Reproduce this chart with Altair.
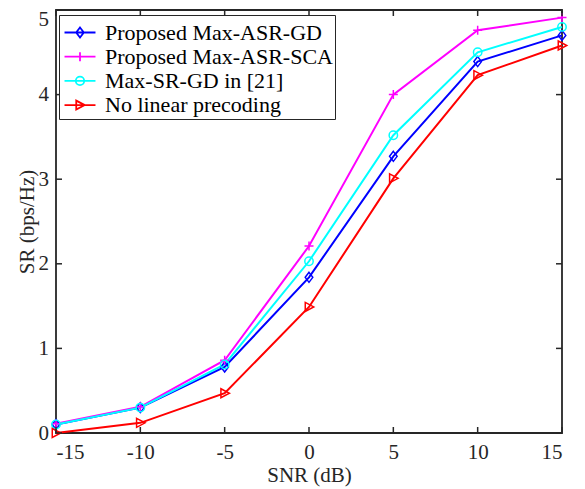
import altair as alt
import pandas as pd

# ---- data ----
snr = [-15, -10, -5, 0, 5, 10, 15]
asr_gd = [0.10, 0.30, 0.78, 1.84, 3.27, 4.39, 4.70]
asr_sca = [0.11, 0.31, 0.86, 2.21, 4.00, 4.76, 4.91]
sr_gd21 = [0.10, 0.30, 0.81, 2.03, 3.52, 4.50, 4.80]
no_lp = [0.00, 0.12, 0.47, 1.49, 3.01, 4.23, 4.58]

series_names = ["Proposed Max-ASR-GD", "Proposed Max-ASR-SCA",
                "Max-SR-GD in [21]", "No linear precoding"]
series_colors = ["#0000FF", "#FF00FF", "#00FFFF", "#FF0000"]
x_ticks = [-15, -10, -5, 0, 5, 10, 15]
y_ticks = [0, 1, 2, 3, 4, 5]

# ---- marker shapes (custom svg paths, unit box) ----
marker_paths = [
    "M0,-1L0.76,0L0,1L-0.76,0Z",                                            # diamond
    "M-0.9,0L0.9,0M0,-0.9L0,0.9",                                           # plus
    "M-0.84,0A0.84,0.84,0,1,0,0.84,0A0.84,0.84,0,1,0,-0.84,0Z",            # circle
    "M-0.75,-0.9L0.95,0L-0.75,0.9Z",                                        # triangle right
]
legend_paths = [
    "M-1.63,0L1.63,0M0,-0.526L0.4,0L0,0.526L-0.4,0Z",
    "M-1.63,0L1.63,0M0,-0.47L0,0.47",
    "M-1.63,0L1.63,0M-0.442,0A0.442,0.442,0,1,0,0.442,0A0.442,0.442,0,1,0,-0.442,0Z",
    "M-1.63,0L1.63,0M-0.395,-0.474L0.5,0L-0.395,0.474Z",
]

rows = []
for name, vals in zip(series_names, [asr_gd, asr_sca, sr_gd21, no_lp]):
    for i, (xv, yv) in enumerate(zip(snr, vals)):
        rows.append({"snr": xv, "sr": yv, "series": name, "k": i})
df = pd.DataFrame(rows)
xt = pd.DataFrame({"snr": x_ticks})
yt = pd.DataFrame({"sr": y_ticks})

W, H = 506, 423
FONT = "Liberation Serif"
AX = "#262626"
TL = 6

xs = alt.Scale(domain=[-15, 15], nice=False, zero=False)
ys = alt.Scale(domain=[0, 5], nice=False, zero=False)

x_axis = alt.Axis(values=x_ticks, title="SNR (dB)", labelPadding=8, titlePadding=2,
                  labelExpr="'' + datum.value")
y_axis = alt.Axis(values=y_ticks, title="SR (bps/Hz)", labelPadding=7.5, titlePadding=1,
                  labelExpr="'' + datum.value",
                  labelOffset={"condition": {"test": "datum.value >= 5", "value": 9},
                               "value": 0})

X = alt.X("snr:Q", scale=xs, axis=x_axis)
Y = alt.Y("sr:Q", scale=ys, axis=y_axis)

base = alt.Chart(df)

lines = base.mark_line(strokeWidth=2).encode(
    x=X, y=Y,
    color=alt.Color("series:N", scale=alt.Scale(domain=series_names, range=series_colors),
                    legend=None),
    order="k:Q",
)

markers = base.mark_point(filled=False, size=100, strokeWidth=1.5, opacity=1).encode(
    x=X, y=Y,
    color=alt.Color("series:N", scale=alt.Scale(domain=series_names, range=series_colors),
                    legend=None),
    shape=alt.Shape("series:N", scale=alt.Scale(domain=series_names, range=marker_paths),
                    legend=None),
)

leg = alt.Legend(orient="none", legendX=3, legendY=5, title=" ",
                 titleFontSize=2, titlePadding=2.5,
                 labelFont=FONT, labelFontSize=22, labelColor="black",
                 symbolSize=361, symbolStrokeWidth=1.8, symbolOffset=8, labelOffset=14,
                 padding=2, rowPadding=2.2, strokeColor=AX, fillColor="white",
                 labelLimit=400)

legend_layer = base.transform_filter("datum.sr < -100").mark_point(
    filled=False, opacity=1, strokeWidth=1.8).encode(
    x=X, y=Y,
    color=alt.Color("series:N", scale=alt.Scale(domain=series_names, range=series_colors),
                    legend=leg),
    shape=alt.Shape("series:N", scale=alt.Scale(domain=series_names, range=legend_paths),
                    legend=leg),
)

tick_style = dict(color=AX, strokeWidth=1.5)
xt_bottom = alt.Chart(xt).mark_rule(**tick_style).encode(
    x=X, y=alt.value(H), y2=alt.value(H - TL))
xt_top = alt.Chart(xt).mark_rule(**tick_style).encode(
    x=X, y=alt.value(0), y2=alt.value(TL))
yt_left = alt.Chart(yt).mark_rule(**tick_style).encode(
    y=Y, x=alt.value(0), x2=alt.value(TL))
yt_right = alt.Chart(yt).mark_rule(**tick_style).encode(
    y=Y, x=alt.value(W), x2=alt.value(W - TL))

chart = alt.layer(
    lines, markers, legend_layer, xt_bottom, xt_top, yt_left, yt_right
).resolve_scale(
    color="independent", shape="independent"
).properties(
    width=W, height=H,
    autosize=alt.AutoSizeParams(type="none"),
    padding={"left": 48, "top": 2, "right": 14, "bottom": 56},
    background="white",
).configure_view(
    stroke=AX, strokeWidth=1.8
).configure_axis(
    labelFont=FONT, labelFontSize=21, labelColor=AX,
    titleFont=FONT, titleFontSize=21, titleColor=AX, titleFontWeight="normal",
    grid=False, domain=False, ticks=False, tickSize=0,
)

chart.save("out.html", embed_options={"renderer": "svg", "actions": False})
